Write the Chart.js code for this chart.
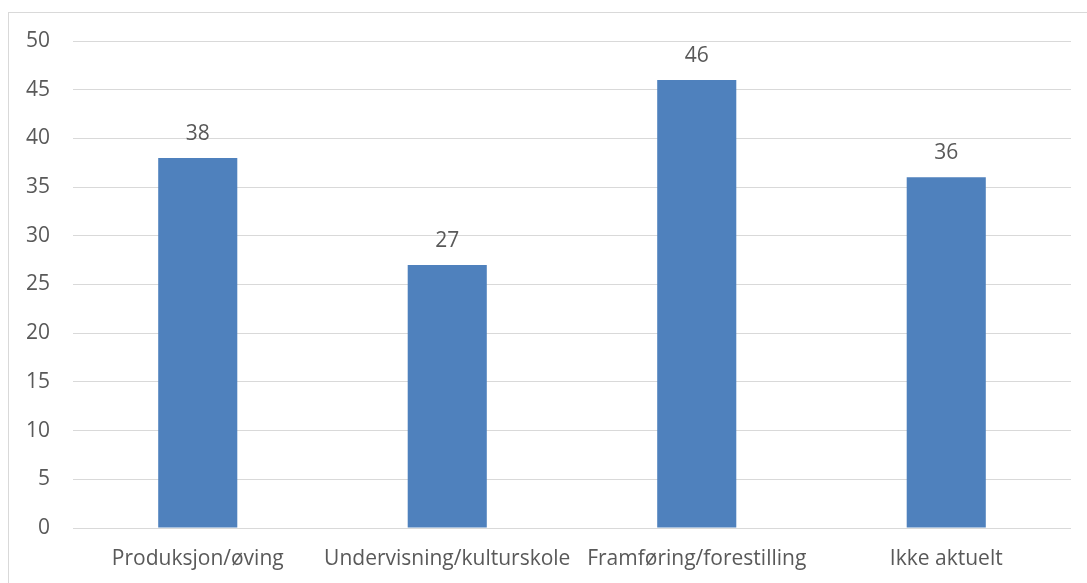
<!DOCTYPE html>
<html>
<head>
<meta charset="utf-8">
<script src="https://cdn.jsdelivr.net/npm/chart.js@4"></script>
<style>
  html, body { margin: 0; padding: 0; background: #fff; }
  #wrap { position: relative; width: 1087px; height: 583px; overflow: hidden; }
  #frame { position: absolute; left: 8px; top: 12px; width: 1100px; height: 600px; border: 1px solid #d9d9d9; box-sizing: border-box; }
  #c { position: absolute; left: 0; top: 0; }
</style>
</head>
<body>
<div id="wrap">
  <div id="frame"></div>
  <canvas id="c" width="1087" height="583"></canvas>
</div>
<script>
// data
var categories = ['Produksjon/øving', 'Undervisning/kulturskole', 'Framføring/forestilling', 'Ikke aktuelt'];
var values = [38, 27, 46, 36];
var yMin = 0, yMax = 50, yStep = 5;

var fontFam = '"Open Sans", Lato, sans-serif';
var txtColor = '#595959';
var fSize = 21;

// labels over the bars
var barLabels = {
    id: 'barLabels',
    afterDatasetsDraw: function (chart) {
        var ctx = chart.ctx;
        var meta = chart.getDatasetMeta(0);
        ctx.save();
        ctx.font = fSize + 'px ' + fontFam;
        ctx.fillStyle = txtColor;
        ctx.textAlign = 'center';
        ctx.textBaseline = 'middle';
        meta.data.forEach(function (bar, i) {
            ctx.fillText(values[i], bar.x, bar.y - 24);
        });
        ctx.restore();
    }
};

new Chart(document.getElementById('c'), {
    type: 'bar',
    data: {
        labels: categories,
        datasets: [{
            data: values,
            backgroundColor: '#4f81bd',
            borderWidth: 0,
            barPercentage: 0.317,
            categoryPercentage: 1
        }]
    },
    options: {
        responsive: false,
        animation: false,
        layout: { padding: { top: 41, right: 16, left: 0, bottom: 0 } },
        plugins: { legend: { display: false }, tooltip: { enabled: false } },
        scales: {
            x: {
                grid: { display: false, drawTicks: false },
                border: { display: false },
                ticks: { color: txtColor, font: { family: fontFam, size: fSize }, padding: 18,
                         maxRotation: 0, minRotation: 0, autoSkip: false },
                afterFit: function (s) { s.height = 55; }
            },
            y: {
                min: yMin, max: yMax,
                ticks: { stepSize: yStep, color: txtColor, font: { family: fontFam, size: fSize }, padding: 23 },
                grid: { color: '#d9d9d9', lineWidth: 1, drawTicks: false },
                border: { display: false },
                afterFit: function (s) { s.width = 73; }
            }
        }
    },
    plugins: [barLabels]
});
</script>
</body>
</html>
